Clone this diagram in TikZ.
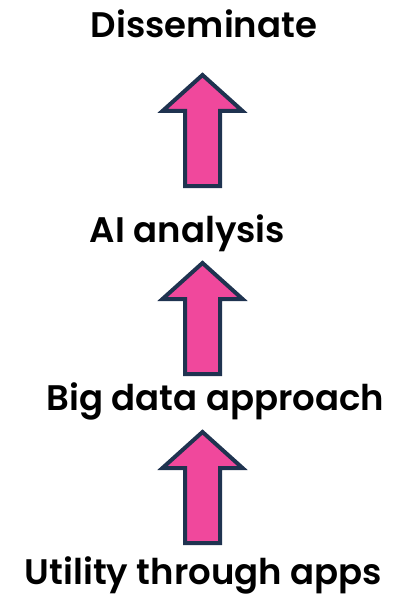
\documentclass[tikz,border=0pt]{standalone}
\usepackage{fontspec}
\setmainfont{Poppins SemiBold}
\definecolor{arrowpink}{RGB}{240,72,156}
\definecolor{arrownavy}{RGB}{31,51,80}
\tikzset{
  label/.style={anchor=base, inner sep=0pt, text=black, font=\fontsize{35.5}{40}\selectfont},
  uparrow/.style={fill=arrowpink, draw=arrownavy, line width=4pt, line join=miter},
}
\newcommand{\UpArrow}[2]{% #1 = x centre, #2 = tip y (page px, downwards)
  \draw[uparrow] (#1,#2+4) -- (#1+40,#2+40) -- (#1+17.5,#2+40) -- (#1+17.5,#2+115)
    -- (#1-17.5,#2+115) -- (#1-17.5,#2+40) -- (#1-40,#2+40) -- cycle;}
\begin{document}
\begin{tikzpicture}[x=1pt,y=-1pt]
  \useasboundingbox (0,0) rectangle (392,596);
  \node[label] (dis) at (204,38) {Disseminate};
  \node[label] (ai) at (187.5,242) {AI analysis};
  \node[label] (big) at (215.5,410) {Big data approach};
  \node[label] (util) at (203.5,584) {Utility through apps};
  \UpArrow{202.5}{71}
  \UpArrow{202.5}{259}
  \UpArrow{202.5}{428}
\end{tikzpicture}
\end{document}
